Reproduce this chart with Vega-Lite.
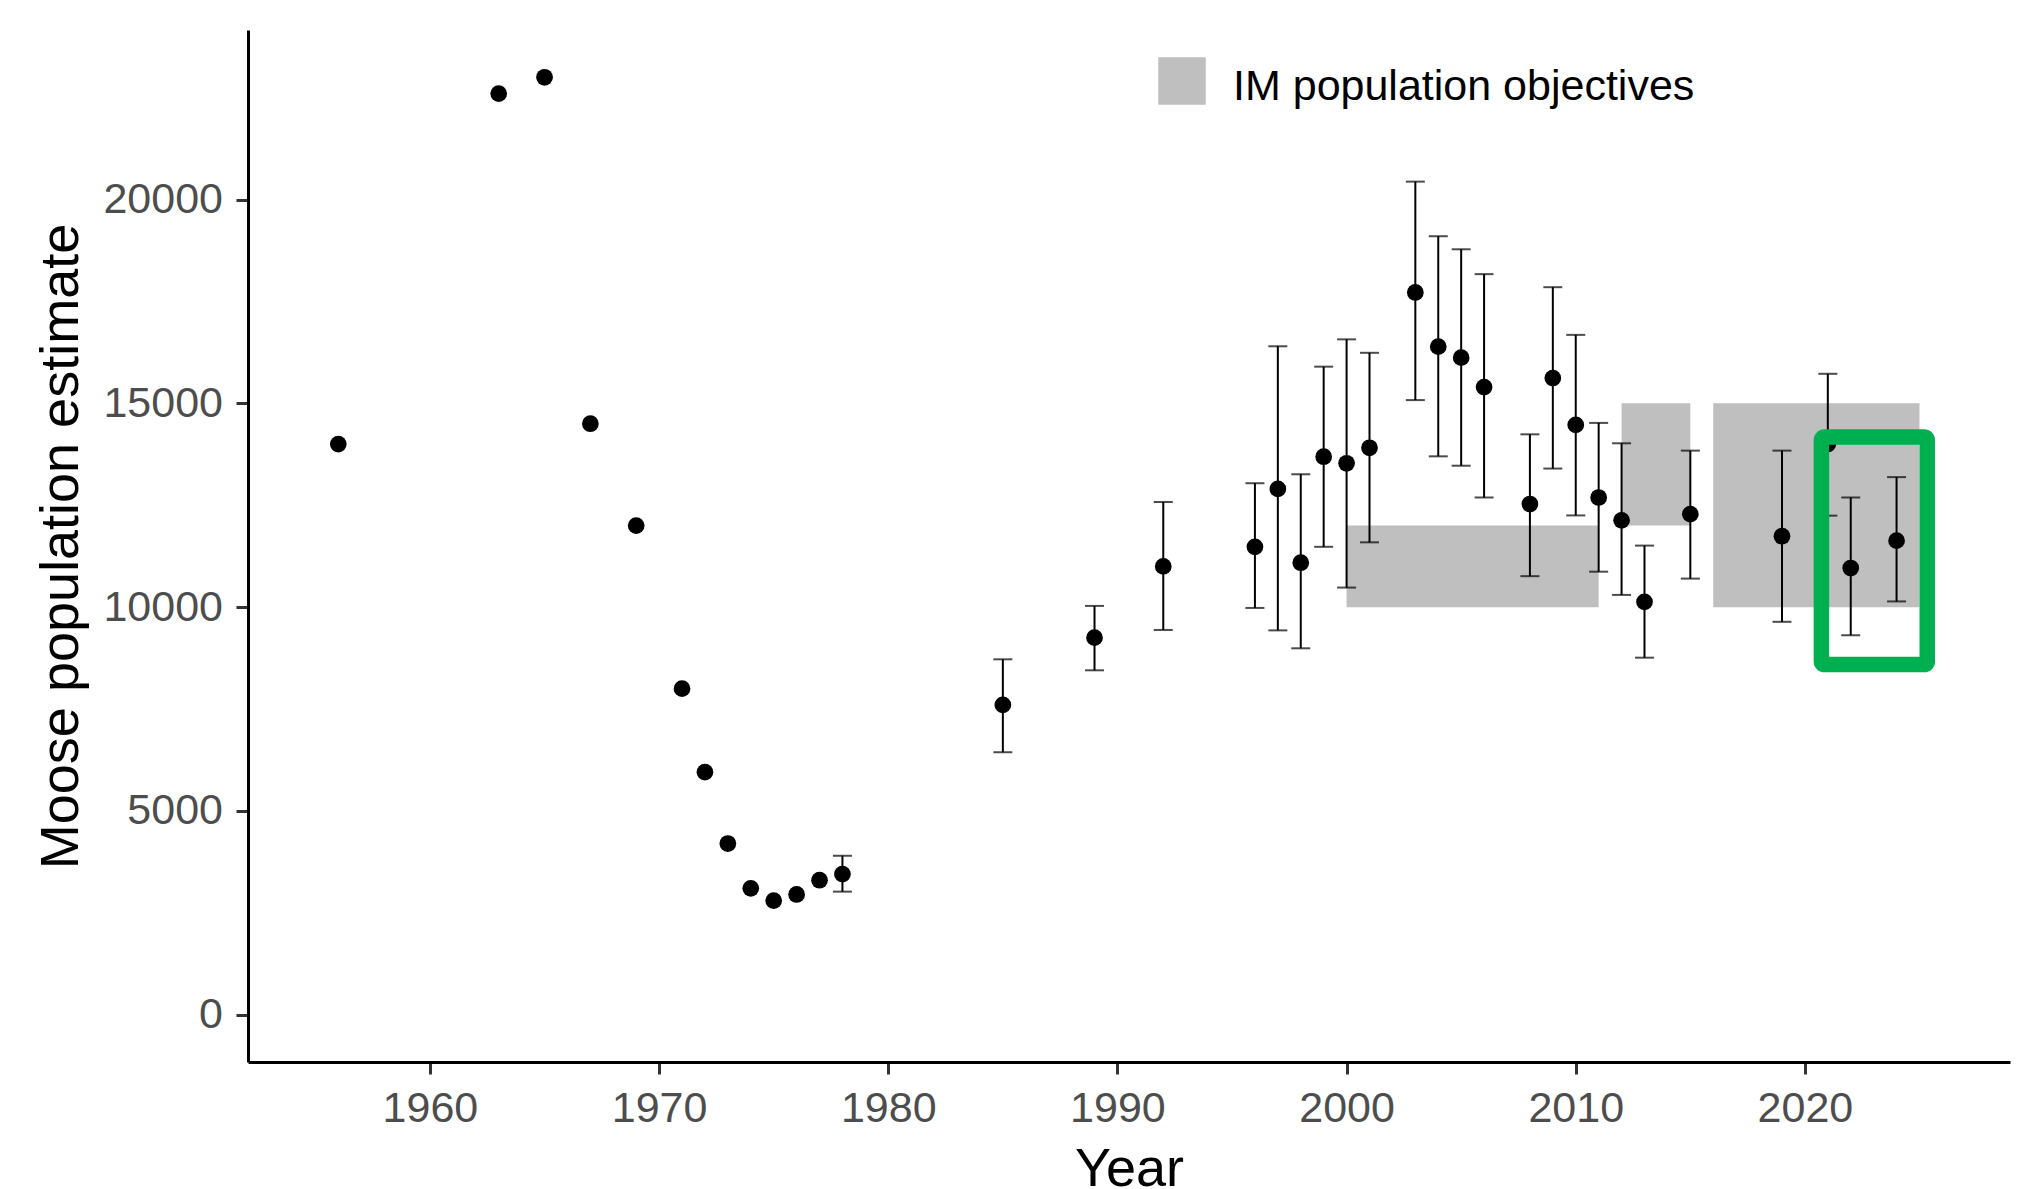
{
  "$schema": "https://vega.github.io/schema/vega-lite/v6.json",
  "width": 1762,
  "height": 1032,
  "autosize": {"type": "none"},
  "padding": {"left": 248, "top": 30, "right": 22, "bottom": 127},
  "background": "white",
  "config": {
    "view": {"stroke": null},
    "font": "Liberation Sans",
    "style": {"guide-label": {"lineHeight": 13}},
    "axis": {
      "grid": false,
      "domainColor": "black",
      "domainWidth": 3,
      "tickColor": "#333333",
      "tickWidth": 3,
      "tickSize": 12,
      "labelFont": "Liberation Sans",
      "labelFontSize": 43,
      "labelColor": "#4D4D4D",
      "titleFont": "Liberation Sans",
      "titleFontSize": 54,
      "titleFontWeight": "normal",
      "titleColor": "black"
    }
  },
  "datasets": {
    "est": [
      {"year": 1956, "est": 14000, "lo": null, "hi": null},
      {"year": 1963, "est": 22600, "lo": null, "hi": null},
      {"year": 1965, "est": 23000, "lo": null, "hi": null},
      {"year": 1967, "est": 14500, "lo": null, "hi": null},
      {"year": 1969, "est": 12000, "lo": null, "hi": null},
      {"year": 1971, "est": 8000, "lo": null, "hi": null},
      {"year": 1972, "est": 5950, "lo": null, "hi": null},
      {"year": 1973, "est": 4200, "lo": null, "hi": null},
      {"year": 1974, "est": 3100, "lo": null, "hi": null},
      {"year": 1975, "est": 2800, "lo": null, "hi": null},
      {"year": 1976, "est": 2950, "lo": null, "hi": null},
      {"year": 1977, "est": 3300, "lo": null, "hi": null},
      {"year": 1978, "est": 3450, "lo": 3020, "hi": 3900},
      {"year": 1985, "est": 7600, "lo": 6440, "hi": 8720},
      {"year": 1989, "est": 9250, "lo": 8450, "hi": 10030},
      {"year": 1992, "est": 11000, "lo": 9440, "hi": 12580},
      {"year": 1996, "est": 11480, "lo": 9980, "hi": 13040},
      {"year": 1997, "est": 12900, "lo": 9430, "hi": 16400},
      {"year": 1998, "est": 11090, "lo": 8990, "hi": 13260},
      {"year": 1999, "est": 13690, "lo": 11480, "hi": 15900},
      {"year": 2000, "est": 13530, "lo": 10480, "hi": 16570},
      {"year": 2001, "est": 13910, "lo": 11590, "hi": 16240},
      {"year": 2003, "est": 17720, "lo": 15080, "hi": 20440},
      {"year": 2004, "est": 16390, "lo": 13700, "hi": 19100},
      {"year": 2005, "est": 16120, "lo": 13470, "hi": 18780},
      {"year": 2006, "est": 15400, "lo": 12690, "hi": 18170},
      {"year": 2008, "est": 12530, "lo": 10760, "hi": 14240},
      {"year": 2009, "est": 15620, "lo": 13400, "hi": 17850},
      {"year": 2010, "est": 14470, "lo": 12250, "hi": 16680},
      {"year": 2011, "est": 12690, "lo": 10870, "hi": 14520},
      {"year": 2012, "est": 12130, "lo": 10300, "hi": 14020},
      {"year": 2013, "est": 10130, "lo": 8760, "hi": 11510},
      {"year": 2015, "est": 12280, "lo": 10700, "hi": 13840},
      {"year": 2019, "est": 11740, "lo": 9640, "hi": 13840},
      {"year": 2021, "est": 14000, "lo": 12245, "hi": 15725},
      {"year": 2022, "est": 10960, "lo": 9310, "hi": 12690},
      {"year": 2024, "est": 11630, "lo": 10140, "hi": 13190}
    ],
    "obj": [
      {"start": 2000, "end": 2011, "low": 10000, "high": 12000, "label": "IM population objectives"},
      {"start": 2012, "end": 2015, "low": 12000, "high": 15000, "label": "IM population objectives"},
      {"start": 2016, "end": 2025, "low": 10000, "high": 15000, "label": "IM population objectives"}
    ],
    "box": [
      {"x1": 2020.72, "x2": 2025.34, "y1": 8592, "y2": 14172}
    ]
  },
  "encoding": {
    "x": {
      "type": "quantitative",
      "scale": {"domain": [1952.06, 2028.95], "nice": false, "zero": false},
      "axis": {"title": "Year", "values": [1960, 1970, 1980, 1990, 2000, 2010, 2020], "format": "d", "labelPadding": 13.5, "titlePadding": 12}
    },
    "y": {
      "type": "quantitative",
      "scale": {"domain": [-1160, 24160], "nice": false, "zero": false},
      "axis": {"title": "Moose population estimate", "values": [0, 5000, 10000, 15000, 20000], "format": "d", "labelPadding": 13.5, "titlePadding": 14}
    }
  },
  "layer": [
    {
      "data": {"name": "obj"},
      "mark": {"type": "rect", "opacity": 1},
      "encoding": {
        "x": {"field": "start", "type": "quantitative"},
        "x2": {"field": "end"},
        "y": {"field": "low", "type": "quantitative"},
        "y2": {"field": "high"},
        "fill": {
          "field": "label",
          "type": "nominal",
          "scale": {"range": ["#BFBFBF"]},
          "legend": {
            "title": null,
            "orient": "none",
            "legendX": 910,
            "legendY": 27,
            "padding": 0,
            "symbolType": "square",
            "symbolSize": 2256,
            "symbolStrokeWidth": 0,
            "symbolOpacity": 1,
            "labelFont": "Liberation Sans",
            "labelFontSize": 43,
            "labelColor": "black",
            "labelOffset": 27,
            "labelLimit": 0,
            "labelBaseline": "line-top"
          }
        }
      }
    },
    {
      "data": {"name": "est"},
      "transform": [{"filter": "isValid(datum.lo)"}],
      "mark": {"type": "errorbar", "thickness": 2, "color": "black", "ticks": {"size": 19, "color": "black"}, "rule": {"color": "black"}},
      "encoding": {
        "x": {"field": "year", "type": "quantitative"},
        "y": {"field": "lo", "type": "quantitative"},
        "y2": {"field": "hi"}
      }
    },
    {
      "data": {"name": "est"},
      "mark": {"type": "circle", "color": "black", "opacity": 1, "size": 280},
      "encoding": {
        "x": {"field": "year", "type": "quantitative"},
        "y": {"field": "est", "type": "quantitative"}
      }
    },
    {
      "data": {"name": "box"},
      "mark": {"type": "rect", "fillOpacity": 0, "stroke": "#00B050", "strokeWidth": 15.5, "cornerRadius": 3},
      "encoding": {
        "x": {"field": "x1", "type": "quantitative"},
        "x2": {"field": "x2"},
        "y": {"field": "y1", "type": "quantitative"},
        "y2": {"field": "y2"}
      }
    }
  ]
}
